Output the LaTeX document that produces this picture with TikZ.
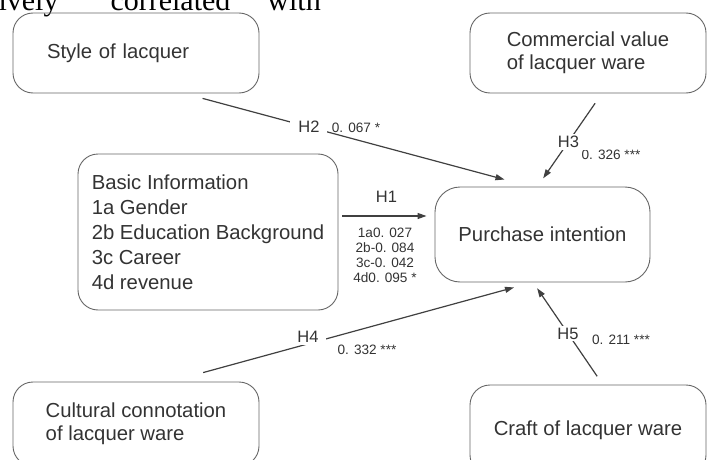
\documentclass[tikz,border=0pt]{standalone}
\usepackage{fontspec}
\setmainfont{Liberation Sans}
\newfontfamily\scanserif{Liberation Serif}
\usetikzlibrary{arrows.meta}

\begin{document}
\begin{tikzpicture}
	[x=1pt,y=-1pt,every node/.style={text=black!80}]
	\tikzstyle{box} = [draw=black!60, line width=0.9pt, rounded corners=20pt, align=left, font=\fontsize{20.3}{23}\selectfont];
	\tikzstyle{link} = [line width=1.2pt, draw=black!75];
	\tikzstyle{arr} = [link, -{Triangle[length=9pt,width=6pt]}];
	\tikzstyle{hlab} = [fill=white, inner xsep=8pt, inner ysep=2pt, font=\fontsize{16.5}{18}\selectfont];
	\tikzstyle{val} = [font=\fontsize{13.6}{15}\selectfont, align=center];
	
	\useasboundingbox (0,0) rectangle (707,460);
	
	% cut-off line of the page above
	\node[anchor=base west, inner sep=0pt, text=black, font=\scanserif\fontsize{30}{30}\selectfont] (scan) at (-10,11) {tively\hspace{52pt}correlated\hspace{37pt}with};
	
	\node[box, minimum width=246pt, minimum height=80pt, text width=178pt, inner xsep=34pt] (style) at (136,53) {Style of lacquer};
	\node[box, minimum width=236pt, minimum height=80pt] (commercial) at (588,53) {Commercial value\\of lacquer ware};
	\node[box, minimum width=260pt, minimum height=156pt, font=\fontsize{20.3}{25}\selectfont] (basic) at (208,232) {Basic Information\\1a Gender\\2b Education Background\\3c Career\\4d revenue};
	\node[box, rounded corners=25pt, minimum width=215pt, minimum height=95pt] (pi) at (542.5,234.5) {Purchase intention};
	\node[box, minimum width=246pt, minimum height=84pt] (cultural) at (136,424) {Cultural connotation\\of lacquer ware};
	\node[box, minimum width=236pt, minimum height=90pt] (craft) at (588,430) {Craft of lacquer ware};
	
	\node[val] (v1) at (385,255.5) {1a0. 027\\2b-0. 084\\3c-0. 042\\4d0. 095 *};
	\node[val] (v2) at (356,128) {0. 067 *};
	\node[val] (v3) at (611,155) {0. 326 ***};
	\node[val] (v4) at (367,350) {0. 332 ***};
	\node[val] (v5) at (621,340) {0. 211 ***};
	
	\draw[arr, shorten <=4pt, shorten >=8pt] ([yshift=16pt]basic.east) -- node[hlab, above=11pt] (h1) {H1} ([yshift=18.5pt]pi.west);
	\draw[arr, shorten <=19pt, shorten >=27pt] (style.-40) -- node[hlab, pos=.36] (h2) {H2} (pi.104);
	\draw[arr, shorten <=12pt, shorten >=10pt] (commercial.-71) -- node[hlab, pos=.52] (h3) {H3} (pi.96);
	\draw[arr, shorten <=34pt, shorten >=19pt] (cultural.51) -- node[hlab, pos=.38, yshift=7pt] (h4) {H4} (pi.-102);
	\draw[arr, shorten <=10pt, shorten >=7pt] (craft.72) -- node[hlab, pos=.5] (h5) {H5} (pi.-101);
\end{tikzpicture}
\end{document}
